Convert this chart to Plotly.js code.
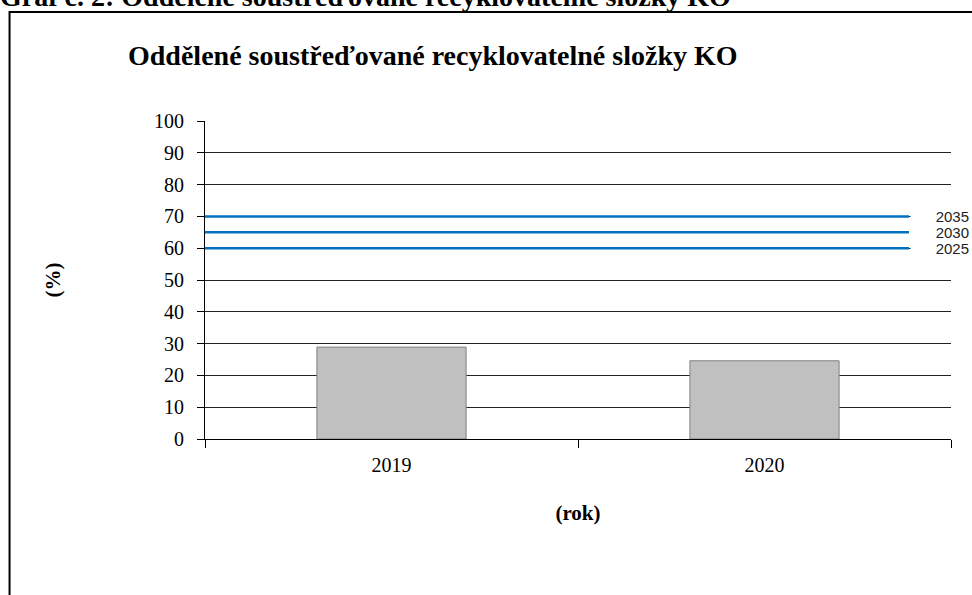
<!DOCTYPE html>
<html>
<head>
<meta charset="utf-8">
<script src="https://cdn.plot.ly/plotly-3.0.1.min.js"></script>
<style>html,body{margin:0;padding:0;background:#fff;}#chart{width:972px;height:595px;}</style>
</head>
<body>
<div id="chart"></div>
<script>
// Data
const years = ['2019', '2020'];
const values = [28.9, 24.6];
const targetYears = ['2035', '2030', '2025'];
const targetValues = [70, 65, 60];
const yTicks = [0, 10, 20, 30, 40, 50, 60, 70, 80, 90, 100];

const serif = "'Liberation Serif', 'Times New Roman', serif";

const traces = [{
  type: 'bar',
  x: years,
  y: values,
  width: 0.4,
  marker: {color: '#c0c0c0', line: {color: '#808080', width: 1}},
  hoverinfo: 'x+y',
  showlegend: false
}];

targetValues.forEach((v, i) => {
  traces.push({
    type: 'scatter',
    mode: 'lines',
    x: [0, 0.9437],
    y: [v, v],
    xaxis: 'x2',
    yaxis: 'y',
    line: {color: '#0070c0', width: 2.5},
    name: targetYears[i],
    showlegend: false,
    hoverinfo: 'name+y'
  });
});

const annotations = targetYears.map((t, i) => ({
  xref: 'paper', yref: 'y',
  x: 0.9452, y: targetValues[i],
  xanchor: 'left', yanchor: 'middle',
  width: 57, height: 14, align: 'right',
  bgcolor: '#ffffff', borderpad: 1,
  text: t, showarrow: false,
  font: {family: "'Liberation Sans', Arial, sans-serif", size: 15, color: '#222'}
}));

annotations.push({
  xref: 'paper', yref: 'paper',
  x: -0.277, y: 1.392,
  xanchor: 'left', yanchor: 'middle',
  text: '<b>Graf č. 2: Oddělené soustřeďované recyklovatelné složky KO</b>',
  showarrow: false,
  font: {family: serif, size: 28, color: '#000'}
});

const layout = {
  width: 972, height: 595,
  margin: {l: 205, r: 21, t: 121, b: 156, pad: 0},
  paper_bgcolor: '#fff', plot_bgcolor: '#fff',
  title: {
    text: '<b>Oddělené soustřeďované recyklovatelné složky KO</b>',
    x: 128 / 972, xanchor: 'left', xref: 'container',
    y: 1 - 55 / 595, yanchor: 'middle', yref: 'container',
    font: {family: serif, size: 28, color: '#000'}
  },
  xaxis: {
    type: 'category',
    tickson: 'boundaries',
    ticks: 'outside', ticklen: 8, tickcolor: '#000', tickwidth: 1,
    showline: true, linecolor: '#000', linewidth: 1,
    showgrid: false, zeroline: false,
    ticklabelstandoff: 8,
    tickfont: {family: serif, size: 20, color: '#000'},
    title: {text: '<b>(rok)</b>', font: {family: serif, size: 21, color: '#000'}, standoff: 30},
    automargin: false
  },
  xaxis2: {
    overlaying: 'x', range: [0, 1], visible: false, fixedrange: true
  },
  yaxis: {
    range: [0, 100],
    tickvals: yTicks,
    ticks: 'outside', ticklen: 7, tickcolor: '#000', tickwidth: 1,
    showline: true, linecolor: '#000', linewidth: 1,
    showgrid: true, gridcolor: '#222', gridwidth: 1,
    zeroline: false,
    ticklabelstandoff: 9,
    tickfont: {family: serif, size: 20, color: '#000'},
    title: {text: '<b>(%)</b>', font: {family: serif, size: 21, color: '#000'}, standoff: 87},
    automargin: false
  },
  shapes: [{
    type: 'rect', xref: 'paper', yref: 'paper',
    x0: -0.262, x1: 1.2, y0: -0.6, y1: 1.343,
    line: {color: '#000', width: 2}, layer: 'below'
  }],
  annotations: annotations,
  showlegend: false
};

Plotly.newPlot('chart', traces, layout, {displayModeBar: false});
</script>
</body>
</html>
